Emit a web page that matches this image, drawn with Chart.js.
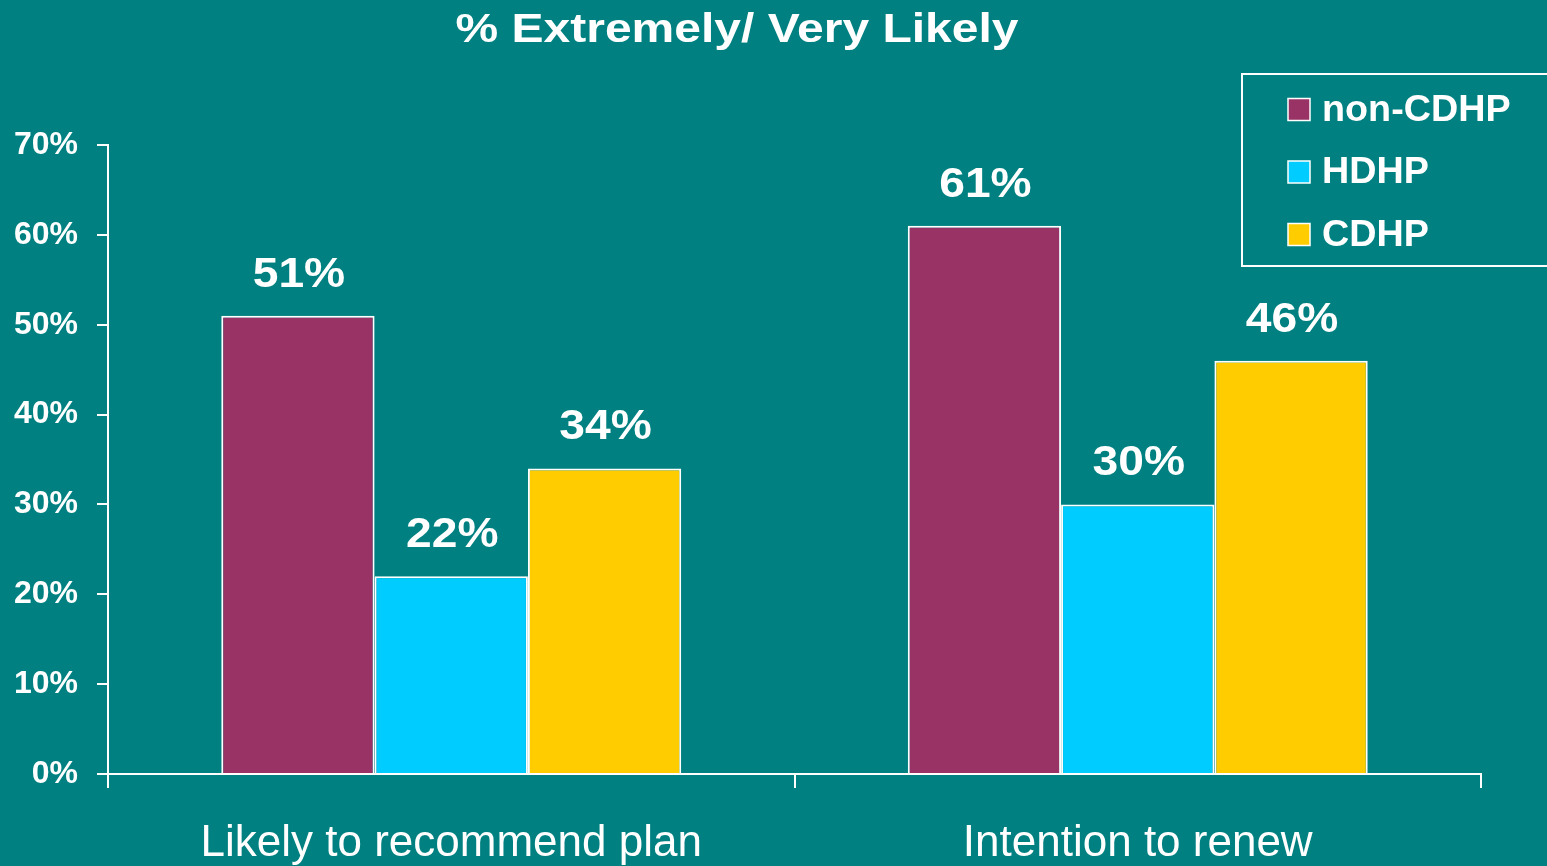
<!DOCTYPE html>
<html>
<head>
<meta charset="utf-8">
<title>% Extremely/ Very Likely</title>
<script src="https://cdn.jsdelivr.net/npm/chart.js@4.4.1/dist/chart.umd.min.js"></script>
<style>
  html, body { margin: 0; padding: 0; background: #008080; overflow: hidden; }
  canvas { display: block; }
</style>
</head>
<body>
<canvas id="mycanvas" width="1547" height="866"></canvas>
<script>
var categories = ["Likely to recommend plan", "Intention to renew"];
var nonCdhp = [51, 61];
var hdhp = [22, 30];
var cdhp = [34, 46];
var yTicks = [0, 10, 20, 30, 40, 50, 60, 70];
var titleText = "% Extremely/ Very Likely";

var fontFamily = "'Liberation Sans', Arial, sans-serif";

// draw text a little wider than the font gives (the original is stretched)
function wideText(ctx, text, x, y, sx) {
  ctx.save();
  ctx.translate(x, y);
  ctx.scale(sx, 1);
  ctx.fillText(text, 0, 0);
  ctx.restore();
}

// value labels above each bar
var valueLabels = {
  id: 'valueLabels',
  afterDatasetsDraw: function(chart) {
    var ctx = chart.ctx;
    ctx.save();
    ctx.fillStyle = "#ffffff";
    ctx.font = "bold 42px " + fontFamily;
    ctx.textAlign = "center";
    ctx.textBaseline = "alphabetic";
    chart.data.datasets.forEach(function(ds, i) {
      var meta = chart.getDatasetMeta(i);
      meta.data.forEach(function(bar, j) {
        wideText(ctx, ds.data[j] + "%", bar.x + 1, bar.y - 29, 1.1);
      });
    });
    ctx.restore();
  }
};

// title and boxed legend, top right
var extras = {
  id: 'extras',
  afterDraw: function(chart) {
    var ctx = chart.ctx;
    ctx.save();
    ctx.fillStyle = "#ffffff";
    ctx.font = "bold 40px " + fontFamily;
    ctx.textAlign = "center";
    ctx.textBaseline = "alphabetic";
    wideText(ctx, titleText, 737, 42, 1.2);

    ctx.strokeStyle = "#ffffff";
    ctx.lineWidth = 2;
    ctx.strokeRect(1242, 74, 400, 192);

    ctx.font = "bold 37px " + fontFamily;
    ctx.textAlign = "left";
    ctx.textBaseline = "middle";
    chart.data.datasets.forEach(function(ds, i) {
      var cy = 109.5 + i * 62.5;
      ctx.fillStyle = ds.backgroundColor;
      ctx.fillRect(1288, cy - 11, 22, 22);
      ctx.lineWidth = 1.5;
      ctx.strokeRect(1288, cy - 11, 22, 22);
      ctx.fillStyle = "#ffffff";
      wideText(ctx, ds.label, 1322, cy + 1, 1.02);
    });
    ctx.restore();
  }
};

var chartdata = {
  labels: categories,
  datasets: [
    {
      label: "non-CDHP",
      backgroundColor: "#993366",
      borderColor: "#ffffff",
      borderWidth: 2,
      data: nonCdhp
    },
    {
      label: "HDHP",
      backgroundColor: "#00ccff",
      borderColor: "#ffffff",
      borderWidth: 2,
      data: hdhp
    },
    {
      label: "CDHP",
      backgroundColor: "#ffcc00",
      borderColor: "#ffffff",
      borderWidth: 2,
      data: cdhp
    }
  ]
};

var ctx = document.getElementById("mycanvas");
var BarGraph = new Chart(ctx, {
  type: 'bar',
  data: chartdata,
  plugins: [valueLabels, extras],
  options: {
    responsive: false,
    animation: false,
    datasets: {
      bar: { categoryPercentage: 0.67, barPercentage: 1.0 }
    },
    layout: { padding: { top: 145, right: 66, left: 0, bottom: 0 } },
    plugins: {
      legend: { display: false },
      title: { display: false },
      tooltip: { enabled: false }
    },
    scales: {
      x: {
        grid: {
          offset: true,
          drawOnChartArea: false,
          drawTicks: true,
          tickLength: 14,
          color: "#ffffff",
          lineWidth: 2
        },
        border: { color: "#ffffff", width: 2 },
        ticks: {
          color: "#ffffff",
          font: { family: fontFamily, size: 44 },
          padding: 29,
          maxRotation: 0,
          autoSkip: false
        },
        afterFit: function(scale) { scale.height = 92; }
      },
      y: {
        min: 0,
        max: 70,
        afterBuildTicks: function(scale) {
          scale.ticks = yTicks.map(function(v) { return { value: v }; });
        },
        grid: {
          drawOnChartArea: false,
          drawTicks: true,
          tickLength: 11,
          color: "#ffffff",
          lineWidth: 2
        },
        border: { color: "#ffffff", width: 2 },
        ticks: {
          color: "#ffffff",
          font: { family: fontFamily, size: 32, weight: "bold" },
          padding: 19,
          callback: function(v) { return v + "%"; }
        },
        afterFit: function(scale) { scale.width = 108; }
      }
    }
  }
});
</script>
</body>
</html>
